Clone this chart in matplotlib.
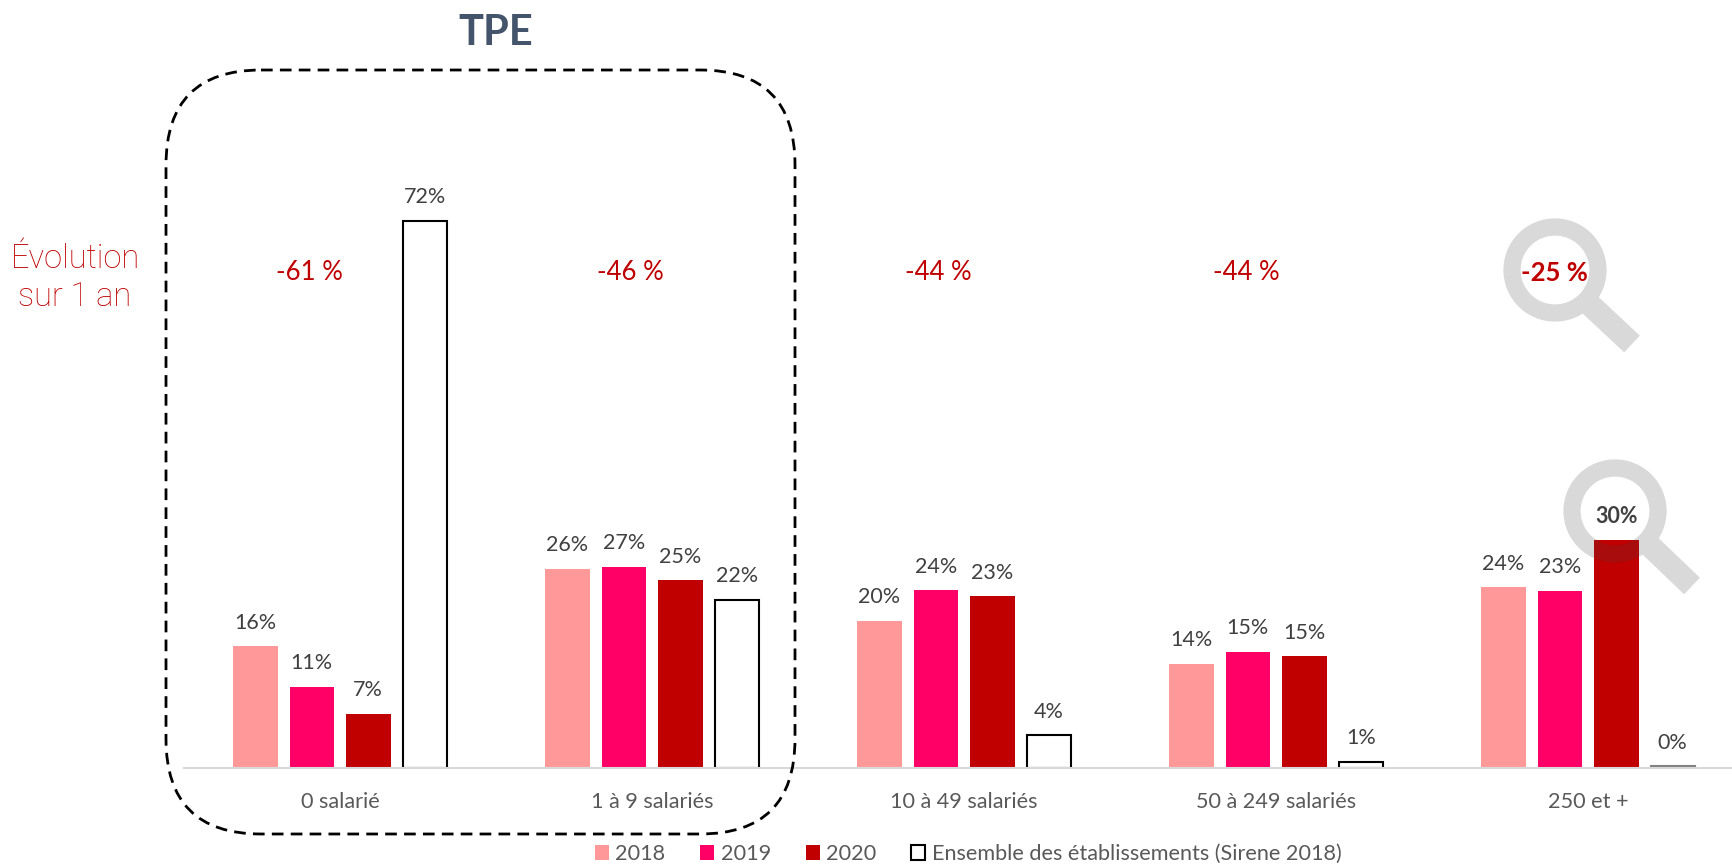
import numpy as np
import matplotlib
matplotlib.use("Agg")
import matplotlib.pyplot as plt
from matplotlib.patches import Circle, FancyBboxPatch

plt.rcParams["font.family"] = ["Lato", "DejaVu Sans"]

categories = ["0 salarié", "1 à 9 salariés", "10 à 49 salariés", "50 à 249 salariés", "250 et +"]
series_names = ["2018", "2019", "2020", "Ensemble des établissements (Sirene 2018)"]
v2018 = [16.0, 26.2, 19.4, 13.7, 23.8]
v2019 = [10.7, 26.5, 23.4, 15.3, 23.3]
v2020 = [7.1, 24.7, 22.6, 14.7, 30.0]
sirene = [72.0, 22.1, 4.3, 0.8, 0.2]
l2018 = ["16%", "26%", "20%", "14%", "24%"]
l2019 = ["11%", "27%", "24%", "15%", "23%"]
l2020 = ["7%", "25%", "23%", "15%", "30%"]
lsirene = ["72%", "22%", "4%", "1%", "0%"]
evolution = ["-61 %", "-46 %", "-44 %", "-44 %", "-25 %"]

W, H = 1732, 865
fig = plt.figure(figsize=(W / 100, H / 100), dpi=100)

# pixel layers behind and in front of the bars
back = fig.add_axes([0, 0, 1, 1], zorder=0)
back.set_xlim(0, W)
back.set_ylim(H, 0)
back.axis("off")

ax = fig.add_axes([184 / W, (H - 768) / H, (W - 184) / W, 768 / H], zorder=1)
ax.patch.set_alpha(0)
ax.set_xlim(-0.5, (W - 340) / 312)
ax.set_ylim(0, 768 / 7.6)

front = fig.add_axes([0, 0, 1, 1], zorder=2)
front.set_xlim(0, W)
front.set_ylim(H, 0)
front.axis("off")

GREY = "#D9D9D9"
# magnifiers
for cx, cy, ex, ey in [(1555, 270, 1632, 344), (1615, 511, 1692, 586)]:
    back.add_patch(Circle((cx, cy), 43, fill=False, ec=GREY, lw=12.4))
    back.plot([cx + 30, ex], [cy + 30, ey], color=GREY, lw=16.5, solid_capstyle="butt")

# bars
x = np.arange(len(categories))
pitch = 56.5 / 312
width = 44.5 / 312
colors = ["#FF9999", "#FF0066", "#C00000"]
all_vals = [v2018, v2019, v2020]
all_labels = [l2018, l2019, l2020, lsirene]
bars = []
for i in range(3):
    bars.append(ax.bar(x + (i - 1.5) * pitch, all_vals[i], width, color=colors[i], label=series_names[i]))
bars.append(ax.bar(x + 1.5 * pitch, sirene, width, facecolor="white", edgecolor="black", linewidth=1.5,
                   label=series_names[3]))
# the 0% bar is only a thin grey trace on the axis
bars[3][4].set_edgecolor("#808080")

for i, group in enumerate(bars):
    for j, b in enumerate(group):
        bold = i == 2 and j == 4
        ax.annotate(all_labels[i][j], (b.get_x() + b.get_width() / 2, b.get_height()), xytext=(0, 17),
                    textcoords="offset points", ha="center", va="center", fontsize=15.5,
                    color="#404040", fontweight="bold" if bold else "normal", zorder=5)

# ring seen through the 30% bar
overlap = Circle((1615, 511), 43, fill=False, ec="#A80C0C", lw=12.4)
front.add_patch(overlap)
overlap.set_clip_path(bars[2][4])

ax.set_xticks(x)
ax.set_xticklabels(categories, fontsize=15.6, color="#595959")
ax.tick_params(axis="x", length=0, pad=17)
ax.yaxis.set_visible(False)
for s in ["top", "left", "right"]:
    ax.spines[s].set_visible(False)
ax.spines["bottom"].set_color(GREY)
ax.spines["bottom"].set_linewidth(1.5)

ax.legend(loc="center", bbox_to_anchor=(968 / W, 1 - 854 / H), bbox_transform=fig.transFigure, ncol=4,
          frameon=False, fontsize=15.6, handlelength=0.65, handleheight=0.65, handletextpad=0.3,
          columnspacing=1.6, labelcolor="#595959")

# dashed TPE box
box = FancyBboxPatch((166 + 95, 70 + 95), 795 - 166 - 190, 834 - 70 - 190, boxstyle="round,pad=95,rounding_size=95",
                     fill=False, ec="black", lw=2, ls=(0, (4.2, 2.6)))
front.add_patch(box)
front.text(496, 33, "TPE", fontsize=30, fontweight="bold", color="#44546A", ha="center", va="center")

# evolution row
RED = "#C00000"
front.text(75, 259, "Évolution", fontsize=23.5, family="Roboto", fontweight="light", color=RED, ha="center", va="center")
front.text(75, 297, "sur 1 an", fontsize=23.5, family="Roboto", fontweight="light", color=RED, ha="center", va="center")
for xp, t in zip([309, 630, 938, 1246, 1554], evolution):
    front.text(xp, 273, t, fontsize=18.5, color=RED, ha="center", va="center",
               fontweight="bold" if t == "-25 %" else "normal")

fig.savefig("out.png", dpi=100)
